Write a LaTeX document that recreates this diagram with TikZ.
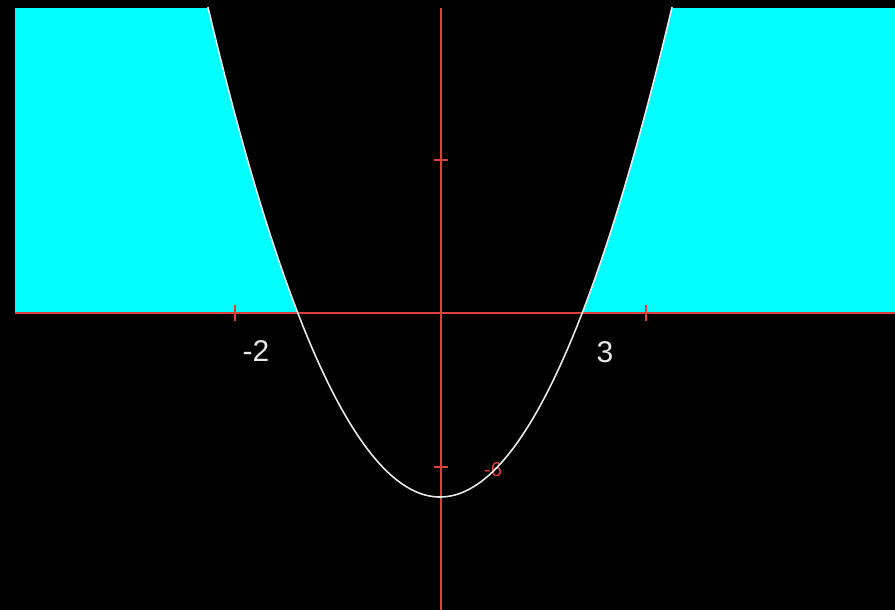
\documentclass[tikz,border=0pt]{standalone}
\usepackage{fontspec}
\setmainfont{Liberation Sans}
\definecolor{axisred}{HTML}{E0403C}
\definecolor{fillcyan}{HTML}{00FFFF}
\definecolor{curvegrey}{HTML}{E8E8E8}
\begin{document}
\begin{tikzpicture}[x=1pt,y=-1pt,
  axis/.style={draw=axisred,line width=2pt},
  tickmark/.style={draw=axisred,line width=1.8pt},
  curve/.style={draw=curvegrey,line width=1.6pt},
  lbl/.style={text=curvegrey,font=\fontsize{30}{31}\selectfont,inner sep=0pt}]
\fill[black] (0,0) rectangle (895,610);
\useasboundingbox (0,0) rectangle (895,610);
% cyan region above x-axis outside parabola
\fill[fillcyan] (15,8) rectangle (895,313);
\fill[black] plot[variable=\t,domain=-2.318:2.318,samples=120,smooth] ({440+100*\t},{497-91*\t*\t}) -- cycle;
% red y tick label partially hidden
\node[text=axisred,font=\fontsize{20}{21}\selectfont,inner sep=0pt] (ylab) at (493,470) {-6};
% axes
\coordinate (xl) at (15,313);
\coordinate (xr) at (895,313);
\coordinate (yt) at (441,8);
\coordinate (yb) at (441,610);
\draw[axis] (xl) -- (xr);
\draw[axis] (yt) -- (yb);
% ticks
\draw[tickmark] (235,305) -- (235,321);
\draw[tickmark] (646,305) -- (646,321);
\draw[tickmark] (434,160) -- (448,160);
\draw[tickmark] (434,467) -- (448,467);
% parabola
\begin{scope}
\clip (15,8) rectangle (895,610);
\draw[curve] plot[variable=\t,domain=-2.35:2.35,samples=160,smooth] ({440+100*\t},{497-91*\t*\t});
\end{scope}
% labels
\node[lbl] (lm2) at (256,351) {-2};
\node[lbl] (l3) at (605,352) {3};
\end{tikzpicture}
\end{document}
